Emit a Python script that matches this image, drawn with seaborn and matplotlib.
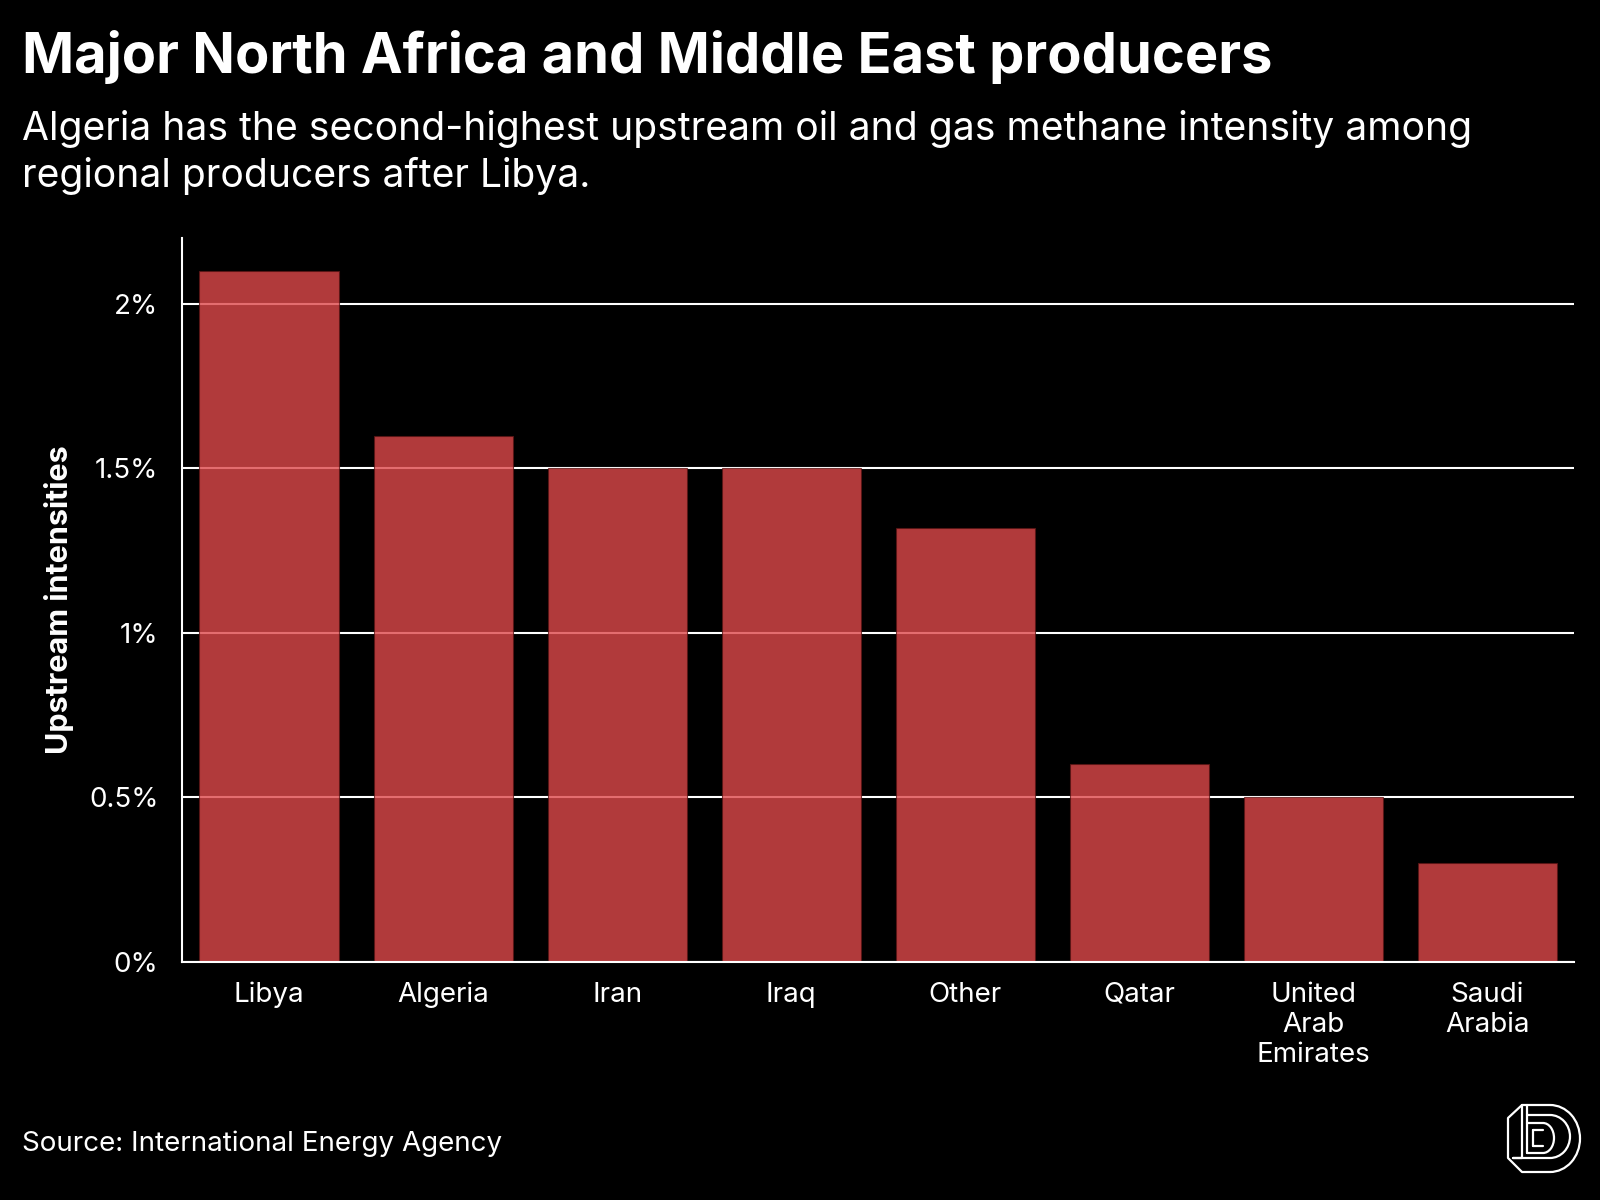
import matplotlib
matplotlib.use("Agg")
import matplotlib.pyplot as plt
import matplotlib.ticker as mticker
from matplotlib.patches import Arc
import seaborn as sns
import pandas as pd
import numpy as np

# ---- data ----
countries = ["Libya", "Algeria", "Iran", "Iraq", "Other", "Qatar",
             "United\nArab\nEmirates", "Saudi\nArabia"]
intensity = [2.1, 1.6, 1.5, 1.5, 1.32, 0.6, 0.5, 0.3]
y_ticks = [0, 0.5, 1, 1.5, 2]

title = "Major North Africa and Middle East producers"
subtitle_1 = "Algeria has the second-highest upstream oil and gas methane intensity among"
subtitle_2 = "regional producers after Libya."
y_label = "Upstream intensities"
source = "Source: International Energy Agency"

df = pd.DataFrame({"country": countries, "value": intensity})

sns.set_style("dark", {
    "axes.facecolor": "black",
    "figure.facecolor": "black",
    "axes.edgecolor": "white",
    "grid.color": "white",
    "text.color": "white",
    "xtick.color": "white",
    "ytick.color": "white",
    "axes.labelcolor": "white",
})
plt.rcParams["font.family"] = ["Inter", "DejaVu Sans"]

fig = plt.figure(figsize=(16, 12), dpi=100, facecolor="black")
ax = fig.add_axes([0.1138, 0.1986, 0.984 - 0.1138, 0.8014 - 0.1986])
ax.set_facecolor("black")

sns.barplot(data=df, x="country", y="value", ax=ax, color="#DE494B",
            saturation=1, alpha=0.8, width=0.8, edgecolor="#5a1515",
            linewidth=0.8)

ax.set_xlim(-0.5, len(countries) - 0.5)
ax.set_ylim(0, 2.2)
ax.set_yticks(y_ticks)
ax.yaxis.set_major_formatter(mticker.FuncFormatter(lambda v, p: f"{v:g}%"))

ax.set_axisbelow(True)
ax.grid(axis="y", color="white", linewidth=1.5)
ax.grid(axis="x", visible=False)

for s in ["top", "right"]:
    ax.spines[s].set_visible(False)
for s in ["left", "bottom"]:
    ax.spines[s].set_visible(True)
    ax.spines[s].set_color("white")
    ax.spines[s].set_linewidth(1.5)

ax.tick_params(axis="y", which="major", direction="out", length=10, width=1.5,
               color="white", labelsize=20, pad=7, labelcolor="white")
ax.tick_params(axis="x", which="major", direction="out", length=9, width=1.5,
               color="white", labelsize=20, pad=5.5, labelcolor="white")
for lbl in ax.get_xticklabels():
    lbl.set_linespacing(1.2)

ax.set_xlabel("")
ax.set_ylabel(y_label, fontsize=22, fontweight="bold", color="white", labelpad=11)

fig.text(0.01375, 0.939, title, fontsize=40.3, fontweight="bold", color="white",
         ha="left", va="baseline")
fig.text(0.01375, 0.8835, subtitle_1, fontsize=28.15, color="white",
         ha="left", va="baseline")
fig.text(0.01375, 0.8445, subtitle_2, fontsize=28.15, color="white",
         ha="left", va="baseline")
fig.text(0.01375, 0.041, source, fontsize=20, color="white",
         ha="left", va="baseline")

# ---- logo (decorative) ----
lax = fig.add_axes([1500 / 1600, 1 - 1190 / 1200, 100 / 1600, 100 / 1200])
lax.set_xlim(0, 100)
lax.set_ylim(100, 0)
lax.set_aspect("equal")
lax.axis("off")
lw = 1.6
c = "white"
# outer D
lax.plot([50, 22, 8, 8, 22, 50], [15, 15, 28, 68, 82, 82], color=c, lw=lw)
lax.add_patch(Arc((50, 48.5), 60, 67, theta1=-90, theta2=90, color=c, lw=lw))
# inner D
lax.plot([50, 27], [25, 25], color=c, lw=lw)
lax.plot([50, 13], [68, 68], color=c, lw=lw)
lax.add_patch(Arc((50, 46.5), 40, 43, theta1=-90, theta2=90, color=c, lw=lw))
# stem of l
lax.plot([22, 22], [15, 68], color=c, lw=lw)
lax.plot([27, 27], [15, 63], color=c, lw=lw)
lax.plot([13, 22], [68, 68], color=c, lw=lw)
# b bowl
lax.plot([27, 43], [33, 33], color=c, lw=lw)
lax.plot([27, 43], [63, 63], color=c, lw=lw)
lax.add_patch(Arc((43, 48), 22, 30, theta1=-90, theta2=90, color=c, lw=lw))
lax.plot([33, 33], [40, 56], color=c, lw=lw)
lax.plot([33, 43], [40, 40], color=c, lw=lw)
lax.plot([33, 43], [56, 56], color=c, lw=lw)

fig.savefig("out.png", dpi=100, facecolor="black")
